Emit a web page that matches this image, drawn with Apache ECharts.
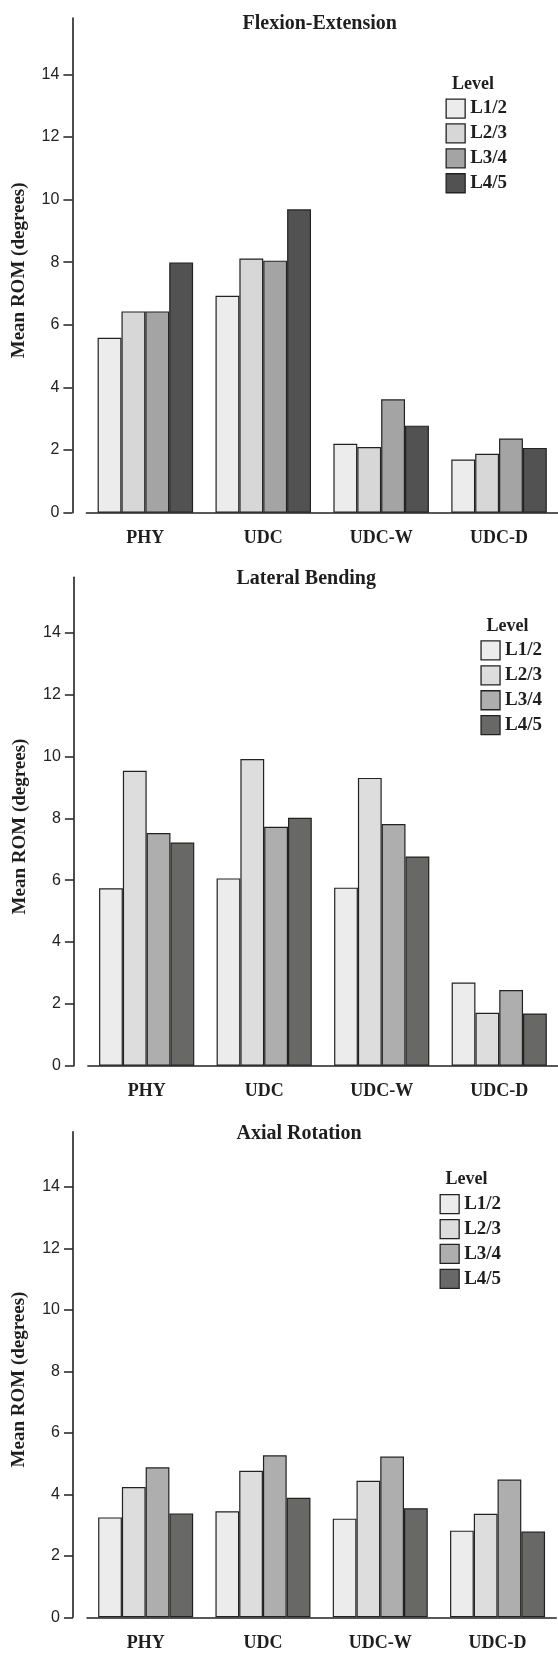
<!DOCTYPE html>
<html>
<head>
<meta charset="utf-8">
<title>Mean ROM</title>
<script src="https://cdn.jsdelivr.net/npm/echarts@6/dist/echarts.min.js"></script>
<style>
    html, body { margin: 0; padding: 0; background: #fff; }
    #main { width: 558px; height: 1653px; }
</style>
</head>
<body>
<div id="main"></div>
<script>
var categories = ['PHY', 'UDC', 'UDC-W', 'UDC-D'];
var levels = ['L1/2', 'L2/3', 'L3/4', 'L4/5'];
var yTicks = [0, 2, 4, 6, 8, 10, 12, 14];
var panelTitles = ['Flexion-Extension', 'Lateral Bending', 'Axial Rotation'];

// Flexion-Extension
var fe_L12 = [5.59, 6.93, 2.20, 1.70];
var fe_L23 = [6.43, 8.12, 2.10, 1.88];
var fe_L34 = [6.43, 8.05, 3.62, 2.37];
var fe_L45 = [7.99, 9.69, 2.78, 2.07];
// Lateral Bending
var lb_L12 = [5.74, 6.06, 5.76, 2.69];
var lb_L23 = [9.54, 9.92, 9.31, 1.71];
var lb_L34 = [7.53, 7.73, 7.82, 2.45];
var lb_L45 = [7.22, 8.02, 6.77, 1.69];
// Axial Rotation
var ar_L12 = [3.25, 3.45, 3.21, 2.82];
var ar_L23 = [4.24, 4.77, 4.44, 3.37];
var ar_L34 = [4.88, 5.27, 5.23, 4.48];
var ar_L45 = [3.38, 3.89, 3.55, 2.79];

var panelData = [
    [fe_L12, fe_L23, fe_L34, fe_L45],
    [lb_L12, lb_L23, lb_L34, lb_L45],
    [ar_L12, ar_L23, ar_L34, ar_L45]
];

var serif = "'Liberation Serif', 'Times New Roman', serif";
var sans = "'Liberation Sans', Arial, sans-serif";
var ink = '#1e1e1e';

var colorsTop = ['#ebeceb', '#d7d7d7', '#a3a4a3', '#515251'];
var colorsLow = ['#ececec', '#dcdddc', '#aeaeae', '#686867'];
var panelColors = [colorsTop, colorsLow, colorsLow];

// layout of each panel (px)
var grids = [
    {left: 86.4, top: 18, width: 475.4, height: 494.7},
    {left: 87.9, top: 577.3, width: 470.4, height: 488.4},
    {left: 87, top: 1131.7, width: 469.2, height: 485.6}
];
var titlePos = [[242.5, 14], [236.5, 569], [236.5, 1124]];
var levelPos = [[452, 75], [486.4, 617], [445.6, 1170]];
var legendPos = [[445.5, 98.4], [480.4, 640.3], [439.5, 1194]];

var myChart = echarts.init(document.getElementById('main'), null, {renderer: 'canvas'});

var titles = [], legends = [], xAxes = [], yAxes = [], series = [];
for (var p = 0; p < 3; p++) {
    titles.push({
        text: panelTitles[p],
        left: titlePos[p][0],
        top: titlePos[p][1],
        padding: 0,
        textStyle: {fontFamily: serif, fontWeight: 'bold', fontSize: 20, color: ink}
    });
    titles.push({
        text: 'Level',
        left: levelPos[p][0],
        top: levelPos[p][1],
        padding: 0,
        textStyle: {fontFamily: serif, fontWeight: 'bold', fontSize: 18, color: ink}
    });

    var legendData = [];
    for (var i = 0; i < levels.length; i++) {
        legendData.push({
            name: levels[i],
            itemStyle: {color: panelColors[p][i], borderColor: '#222', borderWidth: 1.3}
        });
    }
    legends.push({
        data: legendData,
        orient: 'vertical',
        left: legendPos[p][0],
        top: legendPos[p][1],
        padding: 0,
        icon: 'rect',
        itemWidth: 19,
        itemHeight: 19,
        itemGap: 4.6,
        selectedMode: false,
        textStyle: {fontFamily: serif, fontWeight: 'bold', fontSize: 19, color: ink}
    });

    xAxes.push({
        type: 'category',
        gridIndex: p,
        data: categories,
        axisLine: {lineStyle: {color: '#222', width: 1.6}},
        axisTick: {alignWithLabel: true, length: 10, lineStyle: {color: '#222', width: 1.5}},
        axisLabel: {
            margin: 17,
            fontFamily: serif,
            fontWeight: 'bold',
            fontSize: 18,
            color: ink
        },
        splitLine: {show: false}
    });

    yAxes.push({
        type: 'value',
        gridIndex: p,
        min: 0,
        max: 15.8,
        interval: 2,
        offset: 14,
        name: 'Mean ROM (degrees)',
        nameLocation: 'middle',
        nameRotate: 90,
        nameGap: 44,
        nameTextStyle: {fontFamily: serif, fontWeight: 'bold', fontSize: 19, color: ink, padding: [0, 10, 0, 0]},
        axisLine: {show: true, lineStyle: {color: '#222', width: 1.6}},
        axisTick: {show: true, length: 9, customValues: yTicks, lineStyle: {color: '#222', width: 1.5}},
        axisLabel: {
            margin: 13,
            customValues: yTicks,
            fontFamily: sans,
            fontSize: 16,
            color: '#222'
        },
        splitLine: {show: false}
    });

    for (var j = 0; j < levels.length; j++) {
        series.push({
            type: 'bar',
            name: levels[j],
            xAxisIndex: p,
            yAxisIndex: p,
            data: panelData[p][j],
            barGap: '0%',
            barCategoryGap: '19%',
            silent: true,
            itemStyle: {color: panelColors[p][j], borderColor: '#222', borderWidth: 1.2}
        });
    }
}

var option = {
    backgroundColor: '#fff',
    animation: false,
    title: titles,
    legend: legends,
    grid: grids,
    xAxis: xAxes,
    yAxis: yAxes,
    series: series
};
myChart.setOption(option);
</script>
</body>
</html>
